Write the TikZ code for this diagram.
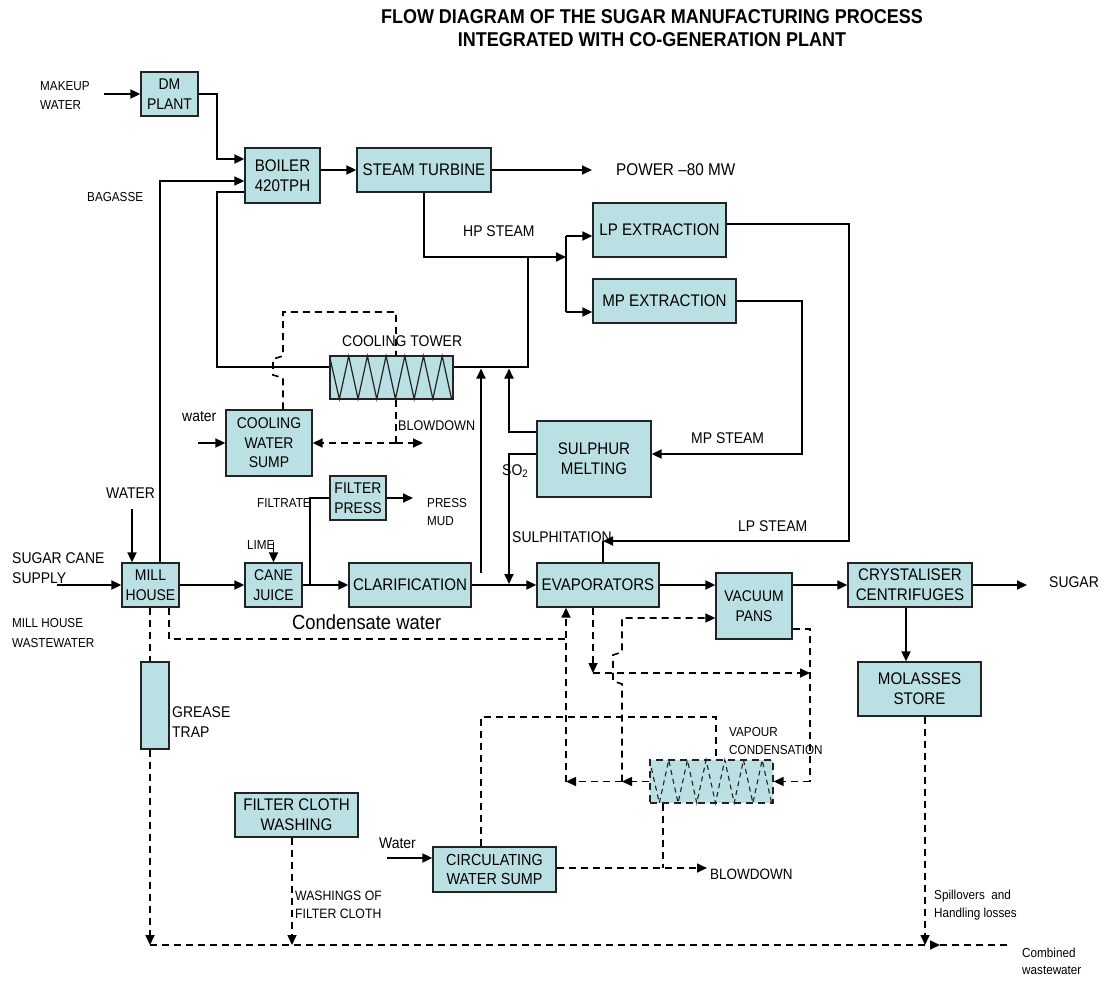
\documentclass[tikz,border=0pt]{standalone}
\usepackage{fontspec}
\setmainfont{Liberation Sans}[FakeStretch=0.9]
\usetikzlibrary{arrows.meta}
\definecolor{boxfill}{RGB}{187,224,227}
\definecolor{edge}{RGB}{35,35,35}
\tikzset{
  blk/.style={draw=edge, line width=1.3pt, fill=boxfill, inner sep=0pt, align=center, font=\fontsize{16.8}{20}\selectfont},
  sblk/.style={blk, font=\fontsize{15.5}{19.5}\selectfont},
  dblk/.style={blk, dash pattern=on 7pt off 5pt},
  tip/.style={-{Triangle[length=10pt,width=9pt]}},
  ln/.style={line width=1.8pt},
  fl/.style={ln, tip},
  dln/.style={line width=1.6pt, dash pattern=on 7pt off 5pt},
  dfl/.style={dln, tip},
  lab/.style={inner sep=0pt, anchor=west, align=left, font=\fontsize{13}{19}\selectfont},
  mlab/.style={lab, font=\fontsize{15.5}{19.5}\selectfont},
}
\begin{document}
\begin{tikzpicture}[x=1pt,y=-1pt]
\useasboundingbox (0,0) rectangle (1115,980);

% title
\node[font=\bfseries\fontsize{20}{23}\selectfont, align=center, inner sep=0pt] (title) at (652,28.5)
  {FLOW DIAGRAM OF THE SUGAR MANUFACTURING PROCESS\\INTEGRATED WITH CO-GENERATION PLANT};

% boxes
\node[sblk, minimum width=57, minimum height=44] (dm) at (169.5,94) {DM\\PLANT};
\node[blk, minimum width=75, minimum height=55] (boiler) at (282.5,175.5) {BOILER\\420TPH};
\node[blk, minimum width=134, minimum height=44] (turbine) at (424,170) {STEAM TURBINE};
\node[blk, minimum width=133, minimum height=54] (lp) at (659.5,230) {LP EXTRACTION};
\node[blk, minimum width=143, minimum height=44] (mp) at (664.5,301) {MP EXTRACTION};
\node[blk, minimum width=123, minimum height=43] (ct) at (391.5,377.5) {};
\node[sblk, minimum width=86, minimum height=66] (sump) at (269,443) {COOLING\\WATER\\SUMP};
\node[blk, minimum width=114, minimum height=76] (sulphur) at (594,459) {SULPHUR\\MELTING};
\node[sblk, minimum width=56, minimum height=44] (fpress) at (358,498) {FILTER\\PRESS};
\node[sblk, minimum width=57, minimum height=44] (mill) at (150.5,585) {MILL\\HOUSE};
\node[sblk, minimum width=57, minimum height=44] (cane) at (273.5,585) {CANE\\JUICE};
\node[blk, minimum width=122, minimum height=44] (clar) at (410,585) {CLARIFICATION};
\node[blk, minimum width=122, minimum height=44] (evap) at (598,585) {EVAPORATORS};
\node[sblk, minimum width=76, minimum height=66] (vac) at (754,606) {VACUUM\\PANS};
\node[blk, minimum width=124, minimum height=44] (cryst) at (910,585) {CRYSTALISER\\CENTRIFUGES};
\node[blk, minimum width=123, minimum height=54] (mol) at (919.5,689) {MOLASSES\\STORE};
\node[blk, minimum width=28, minimum height=87] (grease) at (155,705.5) {};
\node[dblk, minimum width=123, minimum height=43] (cond) at (711.5,781.5) {};
\node[blk, minimum width=123, minimum height=44] (fcw) at (296.5,815) {FILTER CLOTH\\WASHING};
\node[sblk, font=\fontsize{16}{19.5}\selectfont, minimum width=123, minimum height=45] (csump) at (494.5,869.5) {CIRCULATING\\WATER SUMP};

% zigzags
\draw[line width=1.2pt, edge] (ct.north west)
  \foreach \i in {0,...,5}{ -- ({339.35+\i*18.7},399) -- ({348.7+\i*18.7},356)} -- (451.55,399);
\draw[line width=1.1pt, edge, dash pattern=on 5pt off 4pt] (cond.north west)
  \foreach \i in {0,...,5}{ -- ({659.35+\i*18.7},803) -- ({668.7+\i*18.7},760)} -- (771.55,803);

% labels
\node[lab] (lmk) at (40,96) {MAKEUP\\WATER};
\node[lab] (lbag) at (87,197) {BAGASSE};
\node[lab, font=\fontsize{17}{20}\selectfont] (lpow) at (616,170) {POWER –80 MW};
\node[mlab] (lhp) at (463,231) {HP STEAM};
\node[mlab] (llp) at (738,526) {LP STEAM};
\node[mlab] (lmp) at (691,438) {MP STEAM};
\node[mlab] (lct) at (342,341) {COOLING TOWER};
\node[mlab] (lw1) at (182,417) {water};
\node[lab, font=\fontsize{14}{18}\selectfont] (lbd1) at (398,426) {BLOWDOWN};
\node[mlab] (lso) at (502,471) {SO\textsubscript{2}};
\node[mlab] (lsul) at (512,537) {SULPHITATION};
\node[lab] (lfil) at (257,503) {FILTRATE};
\node[lab, font=\fontsize{13}{18}\selectfont] (lpm) at (427,512) {PRESS\\MUD};
\node[mlab] (lwat) at (106,493) {WATER};
\node[mlab] (lsc) at (12,568) {SUGAR CANE\\SUPPLY};
\node[lab] (llime) at (247,545) {LIME};
\node[lab, font=\fontsize{20.4}{24}\selectfont] (lcw) at (292,622) {Condensate water};
\node[lab, font=\fontsize{13}{20}\selectfont] (lmhw) at (12,633) {MILL HOUSE\\WASTEWATER};
\node[mlab] (lsug) at (1049,582) {SUGAR};
\node[mlab, font=\fontsize{15.5}{20}\selectfont] (lgt) at (172,722) {GREASE\\TRAP};
\node[lab, font=\fontsize{13}{18}\selectfont] (lvc) at (729,741) {VAPOUR\\CONDENSATION};
\node[mlab] (lw2) at (379,843) {Water};
\node[lab, font=\fontsize{13.6}{18}\selectfont] (lwash) at (295,905) {WASHINGS OF\\FILTER CLOTH};
\node[lab, font=\fontsize{15}{18}\selectfont] (lbd2) at (710,874) {BLOWDOWN};
\node[lab, font=\fontsize{13}{18}\selectfont] (lspill) at (934,905) {Spillovers\hspace{0.5em}and\\Handling losses};
\node[lab, font=\fontsize{13}{17}\selectfont] (lcomb) at (1022,961) {Combined\\wastewater};

% free ends
\coordinate (mkin) at (104,94);
\coordinate (powout) at (592,170);
\coordinate (scin) at (57,585);
\coordinate (wtin) at (132,509);
\coordinate (limein) at (273.5,542);
\coordinate (pmout) at (413,498);
\coordinate (wsump) at (198,443);
\coordinate (bdout) at (423,443);
\coordinate (sugout) at (1027,585);
\coordinate (wcs) at (387,858);
\coordinate (bd2out) at (707,868);
\coordinate (combend) at (1008,945);

% solid connectors
\draw[fl] (mkin) -- (dm.west);
\draw[fl] (dm.east) -| (217,159) -- (boiler.west |- 217,159);
\draw[fl] (boiler.east |- turbine.west) -- (turbine.west);
\draw[fl] (turbine.east) -- (powout);
\draw[fl] (turbine.south) |- (566,257);
\draw[ln] (566,236) -- (566,312);
\draw[fl] (566,236) -- (lp.west |- 566,236);
\draw[fl] (566,312) -- (mp.west |- 566,312);
\draw[ln] (528,257) |- (ct.east |- 528,367);
\draw[ln] (ct.west |- 528,367) -| (217,192) -- (boiler.west |- 217,192);
\draw[fl] (mill.north -| 160,0) |- (boiler.west |- 160,181);
\draw[fl] (lp.east |- 0,224) -| (849,541) -- (603,541);
\draw[ln] (evap.north -| 603,0) -- (603,541);
\draw[fl] (mp.east) -| (802,454) -- (sulphur.east |- 802,454);
\draw[fl] (sulphur.west |- 0,432) -| (509,368.5);
\draw[fl] (sulphur.west |- 0,454) -| (509,584);
\draw[fl] (481,573) -- (481,368.5);
\draw[fl] (scin) -- (mill.west);
\draw[fl] (wtin) -- (mill.north -| wtin);
\draw[fl] (mill.east) -- (cane.west);
\draw[fl] (limein) -- (cane.north);
\draw[fl] (cane.east) -- (clar.west);
\draw[ln] (310,585) |- (fpress.west);
\draw[fl] (fpress.east) -- (pmout);
\draw[fl] (clar.east) -- (evap.west);
\draw[fl] (evap.east) -- (vac.west |- evap.east);
\draw[fl] (vac.east |- cryst.west) -- (cryst.west);
\draw[fl] (cryst.east) -- (sugout);
\draw[fl] (cryst.south -| 906,0) -- (mol.north -| 906,0);
\draw[fl] (wsump) -- (sump.west);
\draw[fl] (wcs) -- (csump.west |- wcs);

% dashed connectors
\draw[dln] (sump.north -| 283,0) -- (283,378) -- (273,375) -- (273,359) -- (283,356) -- (283,312) -- (396,312) -- (ct.north -| 396,0);
\draw[dln] (ct.south -| 396,0) -- (396,443);
\draw[dfl] (396,443) -- (sump.east);
\draw[dfl] (396,443) -- (bdout);
\draw[dln] (mill.south -| 150,0) -- (grease.north -| 150,0);
\draw[dfl] (grease.south -| 150,0) -- (150,945);
\draw[dln] (mill.south -| 169,0) |- (566,639);
\draw[dfl] (566,782) -- (evap.south -| 566,0);
\draw[dfl] (cond.west) -- (622,781.5);
\draw[dfl] (622,781.5) -- (566,781.5);
\draw[dfl] (622,781.5) -- (622,684) -- (613,681) -- (613,655) -- (622,652) -- (622,618) -- (vac.west |- 622,618);
\draw[dfl] (evap.south -| 593,0) -- (593,673);
\draw[dfl] (593,673) -- (810,673);
\draw[dln] (vac.east |- 0,629) -| (810,781.5);
\draw[dfl] (810,781.5) -- (cond.east);
\draw[dln] (csump.north -| 481,0) |- (716,717) -- (cond.north -| 716,0);
\draw[dln] (cond.south -| 663,0) -- (663,868);
\draw[dfl] (csump.east |- 0,868) -- (bd2out);
\draw[dfl] (fcw.south -| 292,0) -- (292,945);
\draw[dfl] (mol.south -| 925,0) -- (925,945);
\draw[dfl] (150,945) -- (940,945);
\draw[dln] (940,945) -- (combend);
\end{tikzpicture}
\end{document}
